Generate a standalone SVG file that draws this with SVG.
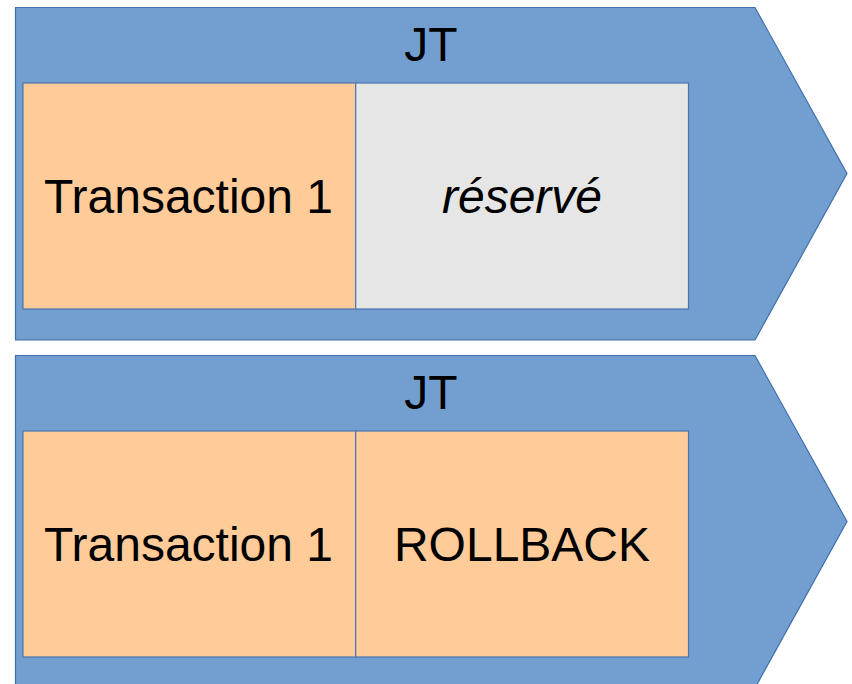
<svg xmlns="http://www.w3.org/2000/svg" width="852" height="684" viewBox="0 0 852 684">
  <style>
    .arrow { fill: #729fcf; stroke: #3f6fae; stroke-width: 1.2; }
    .cell { stroke: #4a76b0; stroke-width: 1.2; }
    .orange { fill: #ffcc99; }
    .grey { fill: #e6e6e6; }
    .label { font-family: "Liberation Sans", Arial, sans-serif; font-size: 48px; fill: #000; text-anchor: middle; }
    .italic { font-style: italic; }
  </style>
  <rect width="852" height="684" fill="#ffffff"/>

  <!-- first time slot -->
  <g id="jt-top">
    <polygon class="arrow" points="15.5,7.5 755,7.5 847,173.5 755,340 15.5,340"/>
    <text class="label" x="431" y="61">JT</text>
  </g>
  <g id="tx1-top">
    <rect class="cell orange" x="23" y="83" width="332.7" height="226"/>
    <text class="label" x="188.5" y="213">Transaction 1</text>
  </g>
  <g id="reserved-top">
    <rect class="cell grey" x="355.7" y="83" width="332.8" height="226"/>
    <text class="label italic" x="522" y="213">réservé</text>
  </g>

  <!-- second time slot -->
  <g id="jt-bottom">
    <polygon class="arrow" points="15.5,355.5 755,355.5 847,521.5 755,688 15.5,688"/>
    <text class="label" x="431" y="409">JT</text>
  </g>
  <g id="tx1-bottom">
    <rect class="cell orange" x="23" y="431" width="332.7" height="226"/>
    <text class="label" x="188.5" y="561">Transaction 1</text>
  </g>
  <g id="rollback-bottom">
    <rect class="cell orange" x="355.7" y="431" width="332.8" height="226"/>
    <text class="label" x="522" y="561">ROLLBACK</text>
  </g>

  <g id="connectors"/>
</svg>
